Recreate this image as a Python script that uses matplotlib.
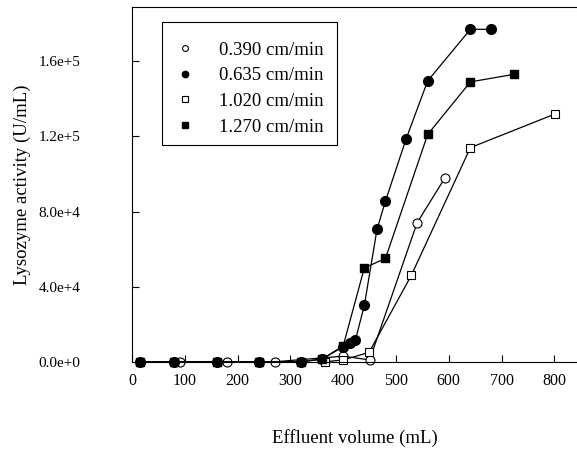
import matplotlib.pyplot as plt
from matplotlib.patches import Rectangle

plt.rcParams['font.family'] = ['Liberation Serif', 'DejaVu Serif']

# volume (mL) / activity (U/mL) per superficial velocity
x_390 = [90, 180, 270, 400, 450, 540, 593]
y_390 = [0, 0, 0, 3000, 1000, 74000, 98000]

x_635 = [15, 80, 160, 240, 320, 360, 400, 413, 423, 440, 464, 480, 519, 560, 641, 680]
y_635 = [0, 0, 0, 0, 0, 1500, 8000, 10000, 11500, 30000, 70500, 85500, 118500, 149500, 177000, 177000]

x_1020 = [365, 400, 449, 529, 641, 802]
y_1020 = [0, 1000, 5000, 46000, 114000, 132000]

x_1270 = [15, 80, 160, 240, 320, 360, 400, 440, 480, 560, 641, 723]
y_1270 = [0, 0, 0, 0, 0, 1400, 8500, 50000, 55000, 121000, 149000, 153000]

labels = ['0.390 cm/min', '0.635 cm/min', '1.020 cm/min', '1.270 cm/min']
yticks = [0, 40000, 80000, 120000, 160000]
ytick_labels = ['0.0e+0', '4.0e+4', '8.0e+4', '1.2e+5', '1.6e+5']
xticks = [0, 100, 200, 300, 400, 500, 600, 700, 800]

fig = plt.figure(figsize=(5.77, 4.5), dpi=100)
ax = fig.add_axes([0.229, 0.196, 0.771, 0.789])

kw = dict(color='black', lw=0.9, clip_on=False)
ax.plot(x_390, y_390, marker='o', ms=6.5, mfc='white', mec='black', mew=0.8, label=labels[0], **kw)
ax.plot(x_635, y_635, marker='o', ms=7, mfc='black', mec='black', label=labels[1], **kw)
ax.plot(x_1020, y_1020, marker='s', ms=6, mfc='white', mec='black', mew=0.8, label=labels[2], **kw)
ax.plot(x_1270, y_1270, marker='s', ms=6, mfc='black', mec='black', label=labels[3], **kw)

ax.set_xlim(0, 843)
ax.set_ylim(0, 189000)
ax.set_xticks(xticks)
ax.set_yticks(yticks)
ax.set_yticklabels(ytick_labels)
ax.tick_params(axis='x', direction='in', length=5, width=0.8, labelsize=11.5, pad=8)
ax.tick_params(axis='y', direction='in', length=5, width=0.8, labelsize=11, pad=37)
ax.spines['right'].set_visible(False)

ax.set_xlabel('Effluent volume (mL)', fontsize=13.5, labelpad=29)
ax.set_ylabel('Lysozyme activity (U/mL)', fontsize=13.5, labelpad=6)

# legend box drawn separately so the entries can sit a bit lower in it
ax.add_patch(Rectangle((0.0674, 0.611), 0.3933, 0.347, transform=ax.transAxes,
                       facecolor='white', edgecolor='black', lw=0.8, zorder=4))
leg = ax.legend(loc='upper left', bbox_to_anchor=(0.067, 0.941), fontsize=13.5,
                frameon=False, handlelength=1.0, handletextpad=1.3, labelspacing=0.45,
                borderpad=0.75, borderaxespad=0, markerscale=0.65)
leg.set_zorder(5)
for h in leg.get_lines():
    h.set_linestyle('none')

fig.savefig('out.png', dpi=100)
